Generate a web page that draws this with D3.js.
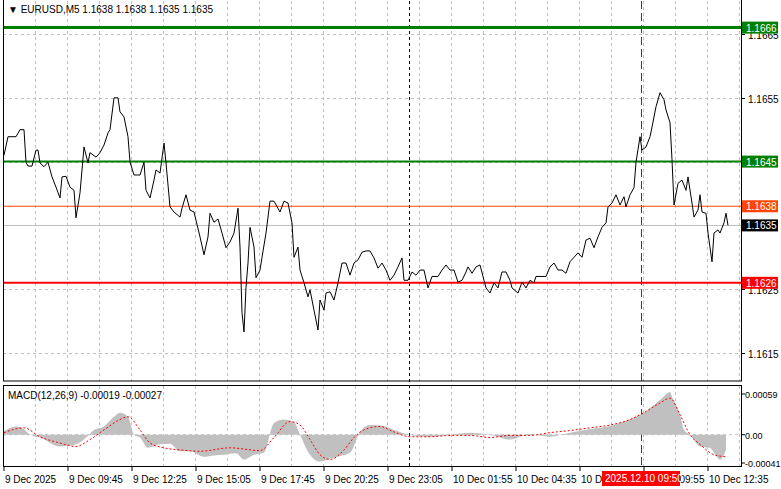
<!DOCTYPE html>
<html><head><meta charset="utf-8">
<script src="https://cdn.jsdelivr.net/npm/d3@7"></script>
<style>body{margin:0;background:#fff}text{font-family:"Liberation Sans",Arial,sans-serif;font-size:10px}</style>
</head><body><div id="chart"></div>
<script>
// bar index (5-minute bars) and close price in pips above 1.1600
var barIdx = [0,2,6,8,10,11,12,14,16,17,18,20,22,24,26,28,29,31,33,35,36,38,40,42,43,46,48,50,52,53,55,57,58,60,62,63,65,68,70,71,73,75,76,78,80,81,83,85,88,89,91,93,95,98,100,102,103,105,107,109,111,113,115,117,118,119,120,121,122,123,125,126,128,129,131,133,135,138,140,142,144,145,147,148,150,152,153,155,157,158,160,161,163,165,167,169,171,173,175,177,179,181,183,185,187,189,191,193,195,197,199,200,202,204,206,208,210,212,214,217,219,221,223,225,227,229,231,232,234,236,238,240,241,243,245,247,249,251,253,254,257,259,261,263,265,266,269,271,273,275,277,279,281,283,285,287,289,291,293,295,297,299,301,302,304,306,308,310,311,313,315,316,318,319,321,323,324,326,328,330,331,333,334,335,337,339,341,342,344,345,347,348,349,351,352,354,355,357,358,360,361,362];
var closePips = [46.0,48.9,48.9,50.0,50.0,44.9,44.3,44.3,46.8,46.8,44.8,44.2,44.9,42.6,41.0,39.3,42.6,42.7,41.0,40.5,36.2,40.1,47.3,44.8,46.4,45.7,46.4,47.6,49.5,50.0,55.0,55.0,52.8,52.0,48.9,44.9,42.9,42.9,44.9,40.5,39.3,42.1,43.7,43.2,47.9,44.8,37.9,37.1,36.3,37.7,39.8,37.4,37.1,33.2,30.4,33.2,36.9,35.5,36.0,33.8,31.5,32.4,33.8,37.7,31.6,21.3,18.3,25.3,29.1,34.7,31.6,26.8,28.0,30.0,33.8,38.8,38.8,37.1,38.8,38.5,35.4,30.0,31.6,28.0,26.0,23.8,24.9,21.7,18.6,23.3,21.7,24.4,24.6,23.3,26.0,29.1,29.1,27.2,29.1,29.6,30.8,31.0,31.0,29.9,28.3,29.1,28.0,26.4,27.2,28.5,29.9,26.4,26.4,27.7,27.2,28.0,28.0,25.2,27.0,27.0,28.0,28.8,28.0,28.0,26.1,26.4,27.7,28.5,27.5,28.5,28.8,26.4,25.2,24.4,26.0,25.2,27.7,27.7,26.4,25.2,24.4,26.1,25.2,26.4,26.0,27.0,27.0,27.0,28.5,29.1,28.0,28.0,27.5,29.3,30.0,30.7,30.0,32.7,33.0,31.5,33.2,34.7,35.4,37.9,38.5,39.8,38.2,39.5,37.9,39.8,40.9,44.9,48.9,46.8,47.3,48.9,50.4,53.6,55.8,54.7,53.1,51.1,45.3,38.2,41.6,42.1,40.5,42.6,38.5,36.3,37.4,39.8,37.1,36.9,33.8,29.3,33.8,34.3,33.8,35.4,36.9,35.0];

// MACD histogram (bar index, value)
var histIdx = [0,6,9,13,18,28,36,41,45,50,55,58,62,65,68,72,78,83,88,93,100,105,110,116,120,125,130,135,140,145,148,153,158,163,168,173,178,183,189,195,203,213,223,233,243,253,263,273,280,290,298,305,310,318,320,325,329,333,334,336,338,340,343,348,353,355,358,361];
var histVal = [0.00005,0.00012,0.00010,0,-0.00004,-0.00017,-0.00014,-0.00004,0.00007,0.00012,0.00026,0.00032,0.00026,0,-0.00004,-0.00019,-0.00014,-0.00013,-0.00024,-0.00024,-0.00032,-0.00030,-0.00029,-0.00027,-0.00036,-0.00029,-0.00026,0.00017,0.00022,0.00018,0,-0.00029,-0.00039,-0.00035,-0.00031,-0.00026,0.00004,0.00014,0.00013,0.00007,0,-0.00003,0,0.00003,0,-0.00007,0.00001,-0.00003,0.00001,0.00007,0.00010,0.00014,0.00019,0.00029,0.00032,0.00043,0.00053,0.00062,0.00055,0.00043,0.00029,0.00007,0,-0.00017,-0.00019,-0.00026,-0.00036,-0.00022];
// MACD signal line
var sigIdx = [0,10,18,28,36,43,50,58,62,68,73,80,88,98,113,128,135,143,148,153,158,163,170,175,180,188,195,203,213,223,233,243,253,263,273,283,293,303,313,320,328,333,338,343,348,355,361];
var sigVal = [0.00003,0.00010,-0.00003,-0.00012,-0.00017,-0.00007,0.00007,0.00022,0.00026,0.00007,-0.00012,-0.00019,-0.00022,-0.00024,-0.00019,-0.00023,-0.00004,0.00019,0.00014,-0.00007,-0.00029,-0.00036,-0.00022,-0.00004,0.00007,0.00012,0.00004,-0.00003,-0.00003,-0.00001,-0.00001,-0.00004,-0.00001,-0.00001,0.00003,0.00006,0.00010,0.00014,0.00022,0.00032,0.00046,0.00053,0.00029,0,-0.00014,-0.00029,-0.00032];

var timeLabels = ["9 Dec 2025","9 Dec 09:45","9 Dec 12:25","9 Dec 15:05","9 Dec 17:45","9 Dec 20:25","9 Dec 23:05","10 Dec 01:55","10 Dec 04:35","10 Dec 07:15","10 Dec 09:55","10 Dec 12:35"];
var priceTicks = [1.1665,1.1655,1.1645,1.1635,1.1625,1.1615];
var macdTicks = [0.00059,0,-0.00041];
var levels = [
  {v:1.1666, c:"#008000", w:3},
  {v:1.1645, c:"#008000", w:2},
  {v:1.1638, c:"#ff4500", w:1},
  {v:1.1626, c:"#ff0000", w:2}
];
var lastPrice = 1.1635;

var W = 781, H = 489;
var x = d3.scaleLinear().domain([0, 32]).range([4, 68]);
var y = d3.scaleLinear().domain([1.1615, 1.1665]).range([353, 34]);
var ym = d3.scaleLinear().domain([-0.00041, 0.00059]).range([463, 394]);

var svg = d3.select("#chart").append("svg").attr("width", W).attr("height", H);

function grid(y0, y1) {
  for (var k = 1; k < 24; k++) {
    svg.append("line").attr("x1", x(k*16)-0.5).attr("x2", x(k*16)-0.5).attr("y1", y0).attr("y2", y1)
      .attr("stroke", "#c0c0c0").attr("stroke-dasharray", "3,3");
  }
}
grid(1, 381); grid(386, 466);

var boxed = levels.map(function (l) { return l.v.toFixed(4); }).concat([lastPrice.toFixed(4)]);
priceTicks.forEach(function (p) {
  var yy = Math.round(y(p)) + 0.5;
  svg.append("line").attr("x1", 3).attr("x2", 741).attr("y1", yy).attr("y2", yy)
    .attr("stroke", "#c0c0c0").attr("stroke-dasharray", "3,3");
  svg.append("line").attr("x1", 741).attr("x2", 745).attr("y1", yy).attr("y2", yy).attr("stroke", "#000");
  if (boxed.indexOf(p.toFixed(4)) < 0)
    svg.append("text").attr("x", 748).attr("y", y(p)+5).text(p.toFixed(4));
});
svg.append("line").attr("x1", 3).attr("x2", 741).attr("y1", ym(0)).attr("y2", ym(0))
  .attr("stroke", "#c0c0c0").attr("stroke-dasharray", "3,3");

// vertical markers
svg.append("line").attr("x1", 409.5).attr("x2", 409.5).attr("y1", 1).attr("y2", 466)
  .attr("stroke", "#000").attr("stroke-dasharray", "3,3");
svg.append("line").attr("x1", 641.5).attr("x2", 641.5).attr("y1", 1).attr("y2", 466)
  .attr("stroke", "#e00000").attr("stroke-dasharray", "8,4");

// current price line
svg.append("line").attr("x1", 3).attr("x2", 741).attr("y1", Math.round(y(lastPrice))+0.5).attr("y2", Math.round(y(lastPrice))+0.5)
  .attr("stroke", "#c0c0c0");

levels.forEach(function (l) {
  svg.append("line").attr("x1", 3).attr("x2", 741).attr("y1", y(l.v)).attr("y2", y(l.v))
    .attr("stroke", l.c).attr("stroke-width", l.w);
});

var pts = barIdx.map(function (b, i) { return [b, 1.16 + closePips[i] / 10000]; });
svg.append("path").datum(pts)
  .attr("d", d3.line().x(function (d) { return x(d[0]); }).y(function (d) { return y(d[1]); }))
  .attr("fill", "none").attr("stroke", "#000").attr("stroke-width", 1);

// price labels
levels.concat([{v:lastPrice, c:"#000"}]).forEach(function (l) {
  var yy = y(l.v);
  svg.append("rect").attr("x", 742).attr("y", yy-6).attr("width", 36).attr("height", 12).attr("fill", l.c);
  svg.append("text").attr("x", 746).attr("y", yy+4).attr("fill", "#fff").text(l.v.toFixed(4));
});

// MACD
var hp = histIdx.map(function (b, i) { return [b, histVal[i]]; });
svg.append("path").datum(hp)
  .attr("d", d3.area().x(function (d) { return x(d[0]); }).y0(ym(0)).y1(function (d) { return ym(d[1]); }).curve(d3.curveMonotoneX))
  .attr("fill", "#c0c0c0");
var sp = sigIdx.map(function (b, i) { return [b, sigVal[i]]; });
svg.append("path").datum(sp)
  .attr("d", d3.line().x(function (d) { return x(d[0]); }).y(function (d) { return ym(d[1]); }).curve(d3.curveMonotoneX))
  .attr("fill", "none").attr("stroke", "#ff0000").attr("stroke-dasharray", "2,2");

macdTicks.forEach(function (m) {
  svg.append("line").attr("x1", 741).attr("x2", 745).attr("y1", ym(m)).attr("y2", ym(m)).attr("stroke", "#000");
  svg.append("text").attr("x", 745).attr("y", ym(m)+4).text(m === 0 ? "0.00" : m.toFixed(5)).style("font-size", "9px");
});

// frames
svg.append("rect").attr("x", 3.5).attr("y", -1).attr("width", 738).attr("height", 382).attr("fill", "none").attr("stroke", "#000");
svg.append("rect").attr("x", 3.5).attr("y", 385.5).attr("width", 738).attr("height", 81).attr("fill", "none").attr("stroke", "#000");

// time axis
timeLabels.forEach(function (t, i) {
  var xx = x(i*32);
  svg.append("line").attr("x1", xx).attr("x2", xx).attr("y1", 467).attr("y2", 471).attr("stroke", "#000");
  svg.append("text").attr("x", xx + 1).attr("y", 483).text(t);
});
svg.append("rect").attr("x", 602).attr("y", 471).attr("width", 78).attr("height", 15).attr("fill", "#ff0000");
svg.append("text").attr("x", 605).attr("y", 482).attr("fill", "#fff").text("2025.12.10 09:50");

svg.append("text").attr("x", 8).attr("y", 13).text("\u25BC EURUSD,M5  1.1638 1.1638 1.1635 1.1635");
svg.append("text").attr("x", 8).attr("y", 399).text("MACD(12,26,9) -0.00019 -0.00027");
</script></body></html>
